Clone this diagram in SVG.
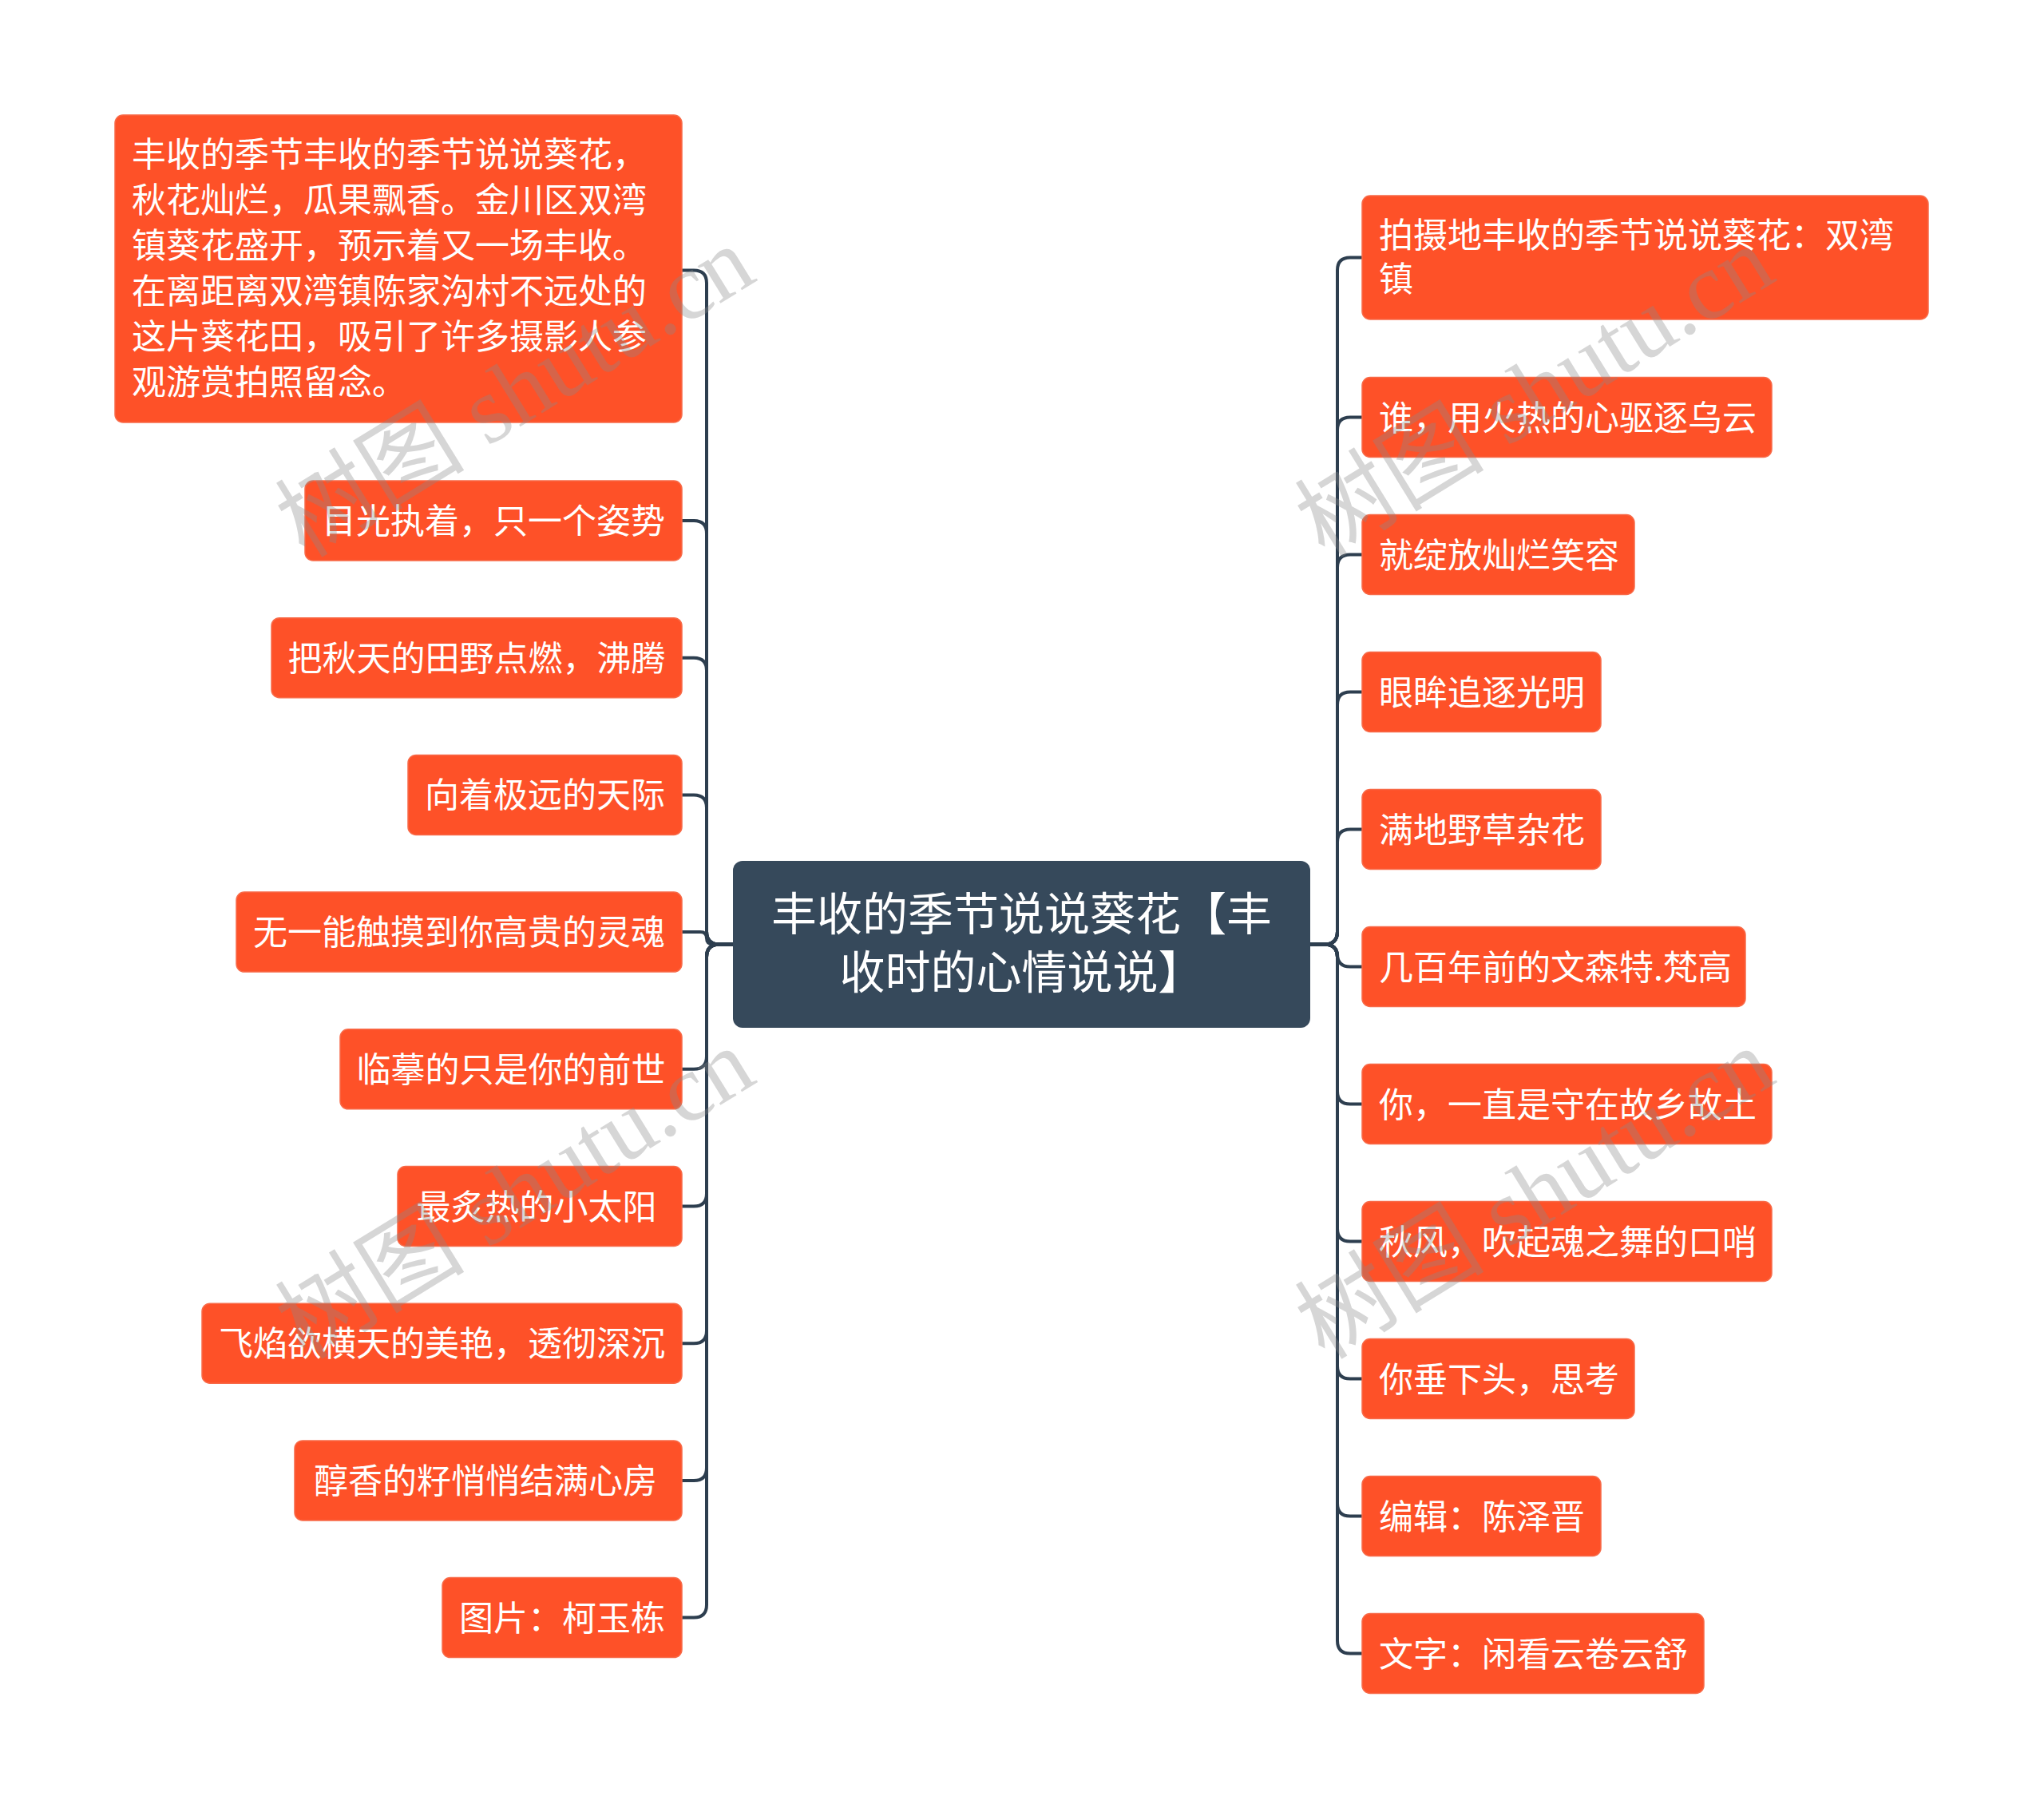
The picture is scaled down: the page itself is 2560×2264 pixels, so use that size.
<svg xmlns="http://www.w3.org/2000/svg" width="2560" height="2264" viewBox="0 0 2560 2264">
<style>
.n rect{fill:#fe5128;stroke:#f86a48;stroke-width:1.5}
.n text{fill:#ffffff;font-family:"Noto Sans CJK SC","Noto Sans",sans-serif;font-size:43px}
.c rect{fill:#36495b}
.c text{fill:#ffffff;font-family:"Noto Sans CJK SC","Noto Sans",sans-serif;font-size:57px}
.links path{fill:none;stroke:#2d3e4f;stroke-width:4}
.wm{fill:#8a8a8a;fill-opacity:0.35;font-family:"Liberation Serif","Noto Sans CJK SC",serif;font-size:119px}
</style>
<rect width="2560" height="2264" fill="#ffffff"/>
<g class="links">
<path d="M918 1182.5 H901 Q885 1182.5 885 1166.5 V354.5 Q885 338.5 869 338.5 H854"/>
<path d="M918 1182.5 H901 Q885 1182.5 885 1166.5 V668 Q885 652 869 652 H854"/>
<path d="M918 1182.5 H901 Q885 1182.5 885 1166.5 V839.7 Q885 823.7 869 823.7 H854"/>
<path d="M918 1182.5 H901 Q885 1182.5 885 1166.5 V1011.4 Q885 995.4 869 995.4 H854"/>
<path d="M918 1182.5 H893 Q885 1182.5 885 1174.8 Q885 1167.1 877 1167.1 H854"/>
<path d="M918 1182.5 H901 Q885 1182.5 885 1198.5 V1322.8 Q885 1338.8 869 1338.8 H854"/>
<path d="M918 1182.5 H901 Q885 1182.5 885 1198.5 V1494.5 Q885 1510.5 869 1510.5 H854"/>
<path d="M918 1182.5 H901 Q885 1182.5 885 1198.5 V1666.2 Q885 1682.2 869 1682.2 H854"/>
<path d="M918 1182.5 H901 Q885 1182.5 885 1198.5 V1837.9 Q885 1853.9 869 1853.9 H854"/>
<path d="M918 1182.5 H901 Q885 1182.5 885 1198.5 V2009.6 Q885 2025.6 869 2025.6 H854"/>
<path d="M1641 1182.5 H1659 Q1675 1182.5 1675 1166.5 V338.5 Q1675 322.5 1691 322.5 H1706"/>
<path d="M1641 1182.5 H1659 Q1675 1182.5 1675 1166.5 V538.5 Q1675 522.5 1691 522.5 H1706"/>
<path d="M1641 1182.5 H1659 Q1675 1182.5 1675 1166.5 V710.5 Q1675 694.5 1691 694.5 H1706"/>
<path d="M1641 1182.5 H1659 Q1675 1182.5 1675 1166.5 V882.5 Q1675 866.5 1691 866.5 H1706"/>
<path d="M1641 1182.5 H1659 Q1675 1182.5 1675 1166.5 V1054.5 Q1675 1038.5 1691 1038.5 H1706"/>
<path d="M1641 1182.5 H1659 Q1675 1182.5 1675 1198.5 V1194.5 Q1675 1210.5 1691 1210.5 H1706"/>
<path d="M1641 1182.5 H1659 Q1675 1182.5 1675 1198.5 V1366.5 Q1675 1382.5 1691 1382.5 H1706"/>
<path d="M1641 1182.5 H1659 Q1675 1182.5 1675 1198.5 V1538.5 Q1675 1554.5 1691 1554.5 H1706"/>
<path d="M1641 1182.5 H1659 Q1675 1182.5 1675 1198.5 V1710.5 Q1675 1726.5 1691 1726.5 H1706"/>
<path d="M1641 1182.5 H1659 Q1675 1182.5 1675 1198.5 V1882.5 Q1675 1898.5 1691 1898.5 H1706"/>
<path d="M1641 1182.5 H1659 Q1675 1182.5 1675 1198.5 V2054.5 Q1675 2070.5 1691 2070.5 H1706"/>
</g>
<g id="root" class="c">
<rect x="918" y="1078" width="723" height="209" rx="12"/>
<text x="1279.5" y="1165" text-anchor="middle">丰收的季节说说葵花【丰</text>
<text x="1279.5" y="1238" text-anchor="middle">收时的心情说说】</text>
</g>
<g id="L1" class="n">
<rect x="144" y="144" width="710" height="385" rx="10"/>
<text x="165" y="209">丰收的季节丰收的季节说说葵花，</text>
<text x="165" y="266">秋花灿烂，瓜果飘香。金川区双湾</text>
<text x="165" y="323">镇葵花盛开，预示着又一场丰收。</text>
<text x="165" y="380">在离距离双湾镇陈家沟村不远处的</text>
<text x="165" y="437">这片葵花田，吸引了许多摄影人参</text>
<text x="165" y="494">观游赏拍照留念。</text>
</g>
<g id="L2" class="n"><rect x="382" y="602" width="472" height="100" rx="10"/><text x="618" y="668" text-anchor="middle">目光执着，只一个姿势</text></g>
<g id="L3" class="n"><rect x="340" y="773.7" width="514" height="100" rx="10"/><text x="597" y="839.7" text-anchor="middle">把秋天的田野点燃，沸腾</text></g>
<g id="L4" class="n"><rect x="511" y="945.4" width="343" height="100" rx="10"/><text x="682.5" y="1011.4" text-anchor="middle">向着极远的天际</text></g>
<g id="L5" class="n"><rect x="296" y="1117.1" width="558" height="100" rx="10"/><text x="575" y="1183.1" text-anchor="middle">无一能触摸到你高贵的灵魂</text></g>
<g id="L6" class="n"><rect x="426" y="1288.8" width="428" height="100" rx="10"/><text x="640" y="1354.8" text-anchor="middle">临摹的只是你的前世</text></g>
<g id="L7" class="n"><rect x="498" y="1460.5" width="356" height="100" rx="10"/><text x="672" y="1526.5" text-anchor="middle">最炙热的小太阳</text></g>
<g id="L8" class="n"><rect x="253" y="1632.2" width="601" height="100" rx="10"/><text x="553.5" y="1698.2" text-anchor="middle">飞焰欲横天的美艳，透彻深沉</text></g>
<g id="L9" class="n"><rect x="369" y="1803.9" width="485" height="100" rx="10"/><text x="608" y="1869.9" text-anchor="middle">醇香的籽悄悄结满心房</text></g>
<g id="L10" class="n"><rect x="554" y="1975.6" width="300" height="100" rx="10"/><text x="704" y="2041.6" text-anchor="middle">图片：柯玉栋</text></g>
<g id="R1" class="n">
<rect x="1706" y="245" width="709" height="155" rx="10"/>
<text x="1727" y="310">拍摄地丰收的季节说说葵花：双湾</text>
<text x="1727" y="365">镇</text>
</g>
<g id="R2" class="n"><rect x="1706" y="472.5" width="513" height="100" rx="10"/><text x="1727" y="538.5">谁，用火热的心驱逐乌云</text></g>
<g id="R3" class="n"><rect x="1706" y="644.5" width="341" height="100" rx="10"/><text x="1727" y="710.5">就绽放灿烂笑容</text></g>
<g id="R4" class="n"><rect x="1706" y="816.5" width="299" height="100" rx="10"/><text x="1727" y="882.5">眼眸追逐光明</text></g>
<g id="R5" class="n"><rect x="1706" y="988.5" width="299" height="100" rx="10"/><text x="1727" y="1054.5">满地野草杂花</text></g>
<g id="R6" class="n"><rect x="1706" y="1160.5" width="480" height="100" rx="10"/><text x="1727" y="1226.5">几百年前的文森特.梵高</text></g>
<g id="R7" class="n"><rect x="1706" y="1332.5" width="513" height="100" rx="10"/><text x="1727" y="1398.5">你，一直是守在故乡故土</text></g>
<g id="R8" class="n"><rect x="1706" y="1504.5" width="513" height="100" rx="10"/><text x="1727" y="1570.5">秋风，吹起魂之舞的口哨</text></g>
<g id="R9" class="n"><rect x="1706" y="1676.5" width="341" height="100" rx="10"/><text x="1727" y="1742.5">你垂下头，思考</text></g>
<g id="R10" class="n"><rect x="1706" y="1848.5" width="299" height="100" rx="10"/><text x="1727" y="1914.5">编辑：陈泽晋</text></g>
<g id="R11" class="n"><rect x="1706" y="2020.5" width="428" height="100" rx="10"/><text x="1727" y="2086.5">文字：闲看云卷云舒</text></g>
<g id="watermarks">
<text class="wm" transform="translate(382 700) rotate(-31.6)">树图 shutu.cn</text>
<text class="wm" transform="translate(1659 700) rotate(-31.6)">树图 shutu.cn</text>
<text class="wm" transform="translate(382 1704) rotate(-31.6)">树图 shutu.cn</text>
<text class="wm" transform="translate(1659 1704) rotate(-31.6)">树图 shutu.cn</text>
</g>
</svg>
